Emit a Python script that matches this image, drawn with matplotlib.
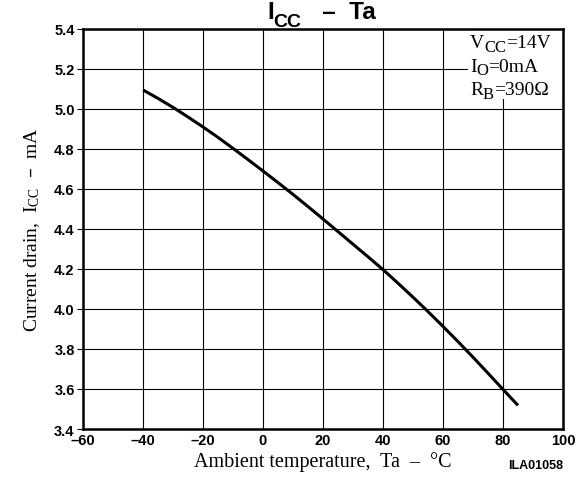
import matplotlib.pyplot as plt
from matplotlib.patches import Rectangle

# Icc vs ambient temperature
temp = [-40, -35, -30, -25, -20, -15, -10, -5, 0, 5, 10, 15, 20, 25, 30,
        35, 40, 45, 50, 55, 60, 65, 70, 75, 80, 85]
icc = [5.095, 5.053, 5.008, 4.960, 4.910, 4.858, 4.803, 4.747, 4.690, 4.632,
       4.573, 4.512, 4.450, 4.387, 4.324, 4.261, 4.197, 4.129, 4.059, 3.987,
       3.913, 3.837, 3.759, 3.679, 3.598, 3.518]

xticks = [-60, -40, -20, 0, 20, 40, 60, 80, 100]
xticklabels = ['\u201360', '\u201340', '\u201320', '0', '20', '40', '60', '80', '100']
yticks = [3.4, 3.6, 3.8, 4.0, 4.2, 4.4, 4.6, 4.8, 5.0, 5.2, 5.4]

sans = ['Liberation Sans', 'DejaVu Sans']
serif = ['Liberation Serif', 'DejaVu Serif']

fig = plt.figure(figsize=(5.87, 4.85), dpi=100)
ax = fig.add_axes([0.1414, 0.1134, 0.8177, 0.8248])


def chain_text(x, y, parts, family, weight='normal'):
    # parts: (string, fontsize, drop below baseline in points)
    s, fs, drop = parts[0]
    prev = ax.annotate(s, xy=(x, y), xycoords='figure fraction', family=family,
                       fontsize=fs, fontweight=weight, va='baseline', ha='left',
                       annotation_clip=False, zorder=5)
    prev_fs, prev_drop = fs, drop
    for s, fs, drop in parts[1:]:
        dy = -(drop - prev_drop) + 0.21 * prev_fs - 0.21 * fs
        prev = ax.annotate(s, xy=(1, 0), xycoords=prev, xytext=(0, dy),
                           textcoords='offset points', family=family,
                           fontsize=fs, fontweight=weight, va='bottom', ha='left',
                           annotation_clip=False, zorder=5)
        prev_fs, prev_drop = fs, drop


ax.plot(temp, icc, color='black', lw=2.2, solid_capstyle='butt')

ax.set_xlim(-60, 100)
ax.set_ylim(3.4, 5.4)
ax.set_xticks(xticks)
ax.set_xticklabels(xticklabels)
ax.set_yticks(yticks)
ax.set_yticklabels(['%.1f' % v for v in yticks])
for lab in ax.get_xticklabels() + ax.get_yticklabels():
    lab.set_family(sans)
    lab.set_fontweight('bold')
    lab.set_fontsize(10.5)
ax.tick_params(axis='x', length=0, pad=3)
ax.tick_params(axis='y', length=4, width=0.8, direction='out', pad=2)

ax.grid(True, color='black', lw=0.8)
ax.set_axisbelow(True)
for sp in ax.spines.values():
    sp.set_linewidth(1.8)

ax.set_xlabel('Ambient temperature,  Ta  \u2013  \u00b0C', family=serif,
              fontsize=14.5, labelpad=3)
ax.set_ylabel('Current drain,  $\\mathregular{I_{CC}}$  \u2013  mA', family=serif,
              fontsize=14, labelpad=9)

# title with subscript
chain_text(267 / 587, 1 - 19 / 485,
           [('I', 17.5, 0), ('CC', 14, 6), ('   \u2013  Ta', 17.5, 0)],
           sans, weight='bold')

fig.text(0.912, 0.04, 'ILA01058', family=sans, fontweight='bold',
         fontsize=9, ha='center', va='center')

# conditions box
ax.add_patch(Rectangle((0.802, 0.825), 0.198, 0.175, transform=ax.transAxes,
                       fc='white', ec='none', zorder=1))
chain_text(470 / 587, 1 - 48 / 485,
           [('V', 14, 0), ('CC', 12, 3), ('=14V', 14, 0)], serif)
chain_text(470 / 587, 1 - 71.5 / 485,
           [('I', 14, 0), ('O', 12, 3), ('=0mA', 14, 0)], serif)
chain_text(470 / 587, 1 - 95 / 485,
           [('R', 14, 0), ('B', 12, 3), ('=390\u03a9', 14, 0)], serif)

fig.savefig('out.png', dpi=100)
